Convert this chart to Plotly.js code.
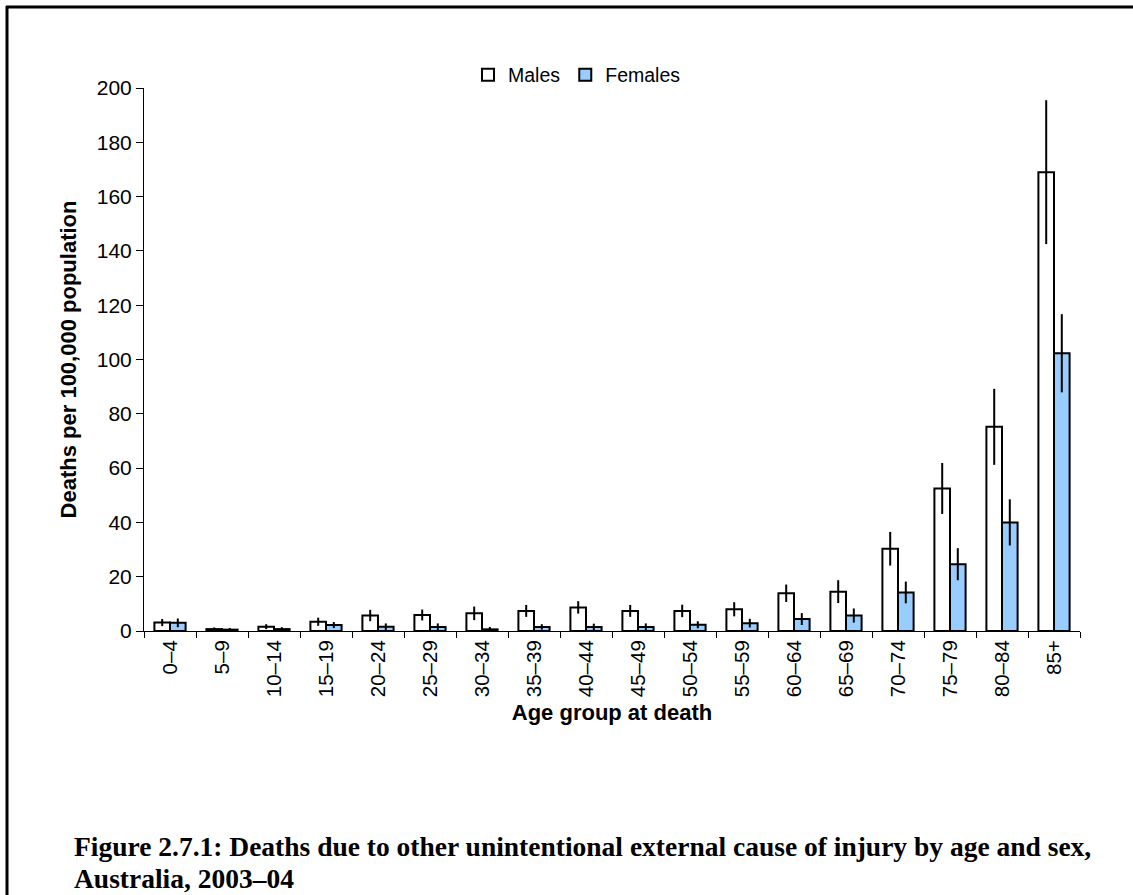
<!DOCTYPE html>
<html>
<head>
<meta charset="utf-8">
<script src="https://cdn.plot.ly/plotly-3.0.1.min.js"></script>
<style>html,body{margin:0;padding:0;background:#fff;overflow:hidden;}#chart{width:1133px;height:895px;}</style>
</head>
<body>
<div id="chart"></div>
<script>
const ageGroups = ["0–4","5–9","10–14","15–19","20–24","25–29","30–34","35–39","40–44","45–49","50–54","55–59","60–64","65–69","70–74","75–79","80–84","85+"];
const malesRate   = [3.1, 0.7, 1.6, 3.4, 5.7, 5.9, 6.5, 7.4, 8.7, 7.4, 7.4, 8.0, 13.9, 14.5, 30.3, 52.5, 75.2, 169.0];
const malesErr    = [1.3, 0.6, 0.9, 1.5, 2.1, 2.0, 2.5, 2.2, 2.3, 2.2, 2.3, 2.6, 3.2, 4.2, 6.2, 9.4, 14.0, 26.5];
const femalesRate = [3.0, 0.5, 0.7, 2.2, 1.6, 1.5, 0.6, 1.5, 1.5, 1.5, 2.3, 2.9, 4.4, 5.7, 14.2, 24.6, 40.0, 102.3];
const femalesErr  = [1.6, 0.6, 0.7, 1.1, 1.2, 1.3, 0.9, 1.0, 1.2, 1.3, 1.3, 1.6, 2.2, 2.6, 4.0, 5.9, 8.5, 14.4];
const seriesNames = ["Males", "Females"];
const captionLines = ["Figure 2.7.1: Deaths due to other unintentional external cause of injury by age and sex,", "Australia, 2003–04"];
const yTitle = "Deaths per 100,000 population";
const xTitle = "Age group at death";

const W = 1133, H = 895;
const L = 144, R = 53, T = 88, B = 264;
const pw = W - L - R, ph = H - T - B;
const px = x => (x - L) / pw;
const py = y => (H - B - y) / ph;

const sans = "Arial, 'Liberation Sans', sans-serif";
const serif = "'Palatino Linotype', 'Book Antiqua', Palatino, 'Liberation Serif', serif";

const traces = [
  {
    type: "bar", name: seriesNames[0], x: ageGroups, y: malesRate,
    marker: {color: "#ffffff", line: {color: "#000000", width: 2}},
    error_y: {type: "data", array: malesErr, visible: true, color: "#000000", thickness: 2, width: 0}
  },
  {
    type: "bar", name: seriesNames[1], x: ageGroups, y: femalesRate,
    marker: {color: "#99ccff", line: {color: "#000000", width: 2}},
    error_y: {type: "data", array: femalesErr, visible: true, color: "#000000", thickness: 2, width: 0}
  }
];

const layout = {
  width: W, height: H,
  margin: {l: L, r: R, t: T, b: B, pad: 0},
  paper_bgcolor: "#ffffff", plot_bgcolor: "#ffffff",
  font: {family: sans, color: "#000000", size: 20},
  barmode: "group", bargap: 0.4, bargroupgap: 0,
  showlegend: true,
  legend: {
    orientation: "h", x: px(468), y: py(75), xanchor: "left", yanchor: "middle",
    font: {family: sans, size: 19.5, color: "#000"}, bgcolor: "rgba(0,0,0,0)",
    itemwidth: 30, tracegroupgap: 0
  },
  xaxis: {
    type: "category", tickson: "boundaries", ticks: "outside", ticklen: 6, tickcolor: "#000",
    showline: true, linecolor: "#000", linewidth: 1, showgrid: false, zeroline: false,
    tickangle: -90, tickfont: {family: sans, size: 20.5, color: "#000"},
    title: {text: "<b>" + xTitle + "</b>", font: {family: sans, size: 22, color: "#000"}, standoff: 8},
    automargin: false
  },
  yaxis: {
    range: [0, 200], dtick: 20, ticks: "outside", ticklen: 7, tickcolor: "#000",
    showline: true, linecolor: "#000", linewidth: 1, showgrid: false, zeroline: false,
    tickfont: {family: sans, size: 21, color: "#000"},
    title: {text: "<b>" + yTitle + "</b>", font: {family: sans, size: 22, color: "#000"}, standoff: 14},
    automargin: false
  },
  shapes: [
    {type: "line", xref: "paper", yref: "paper", x0: px(7), x1: px(7), y0: py(6), y1: py(895), line: {color: "#000", width: 3}},
    {type: "line", xref: "paper", yref: "paper", x0: px(6), x1: px(1133), y0: py(7), y1: py(7), line: {color: "#000", width: 3}}
  ],
  annotations: [
    {xref: "paper", yref: "paper", x: px(72), y: py(846), xanchor: "left", yanchor: "middle", showarrow: false,
     text: "<b>" + captionLines[0] + "</b>", font: {family: serif, size: 27.5, color: "#000"}},
    {xref: "paper", yref: "paper", x: px(72), y: py(878), xanchor: "left", yanchor: "middle", showarrow: false,
     text: "<b>" + captionLines[1] + "</b>", font: {family: serif, size: 27.5, color: "#000"}}
  ]
};

Plotly.newPlot("chart", traces, layout, {displayModeBar: false, staticPlot: true});
</script>
</body>
</html>
